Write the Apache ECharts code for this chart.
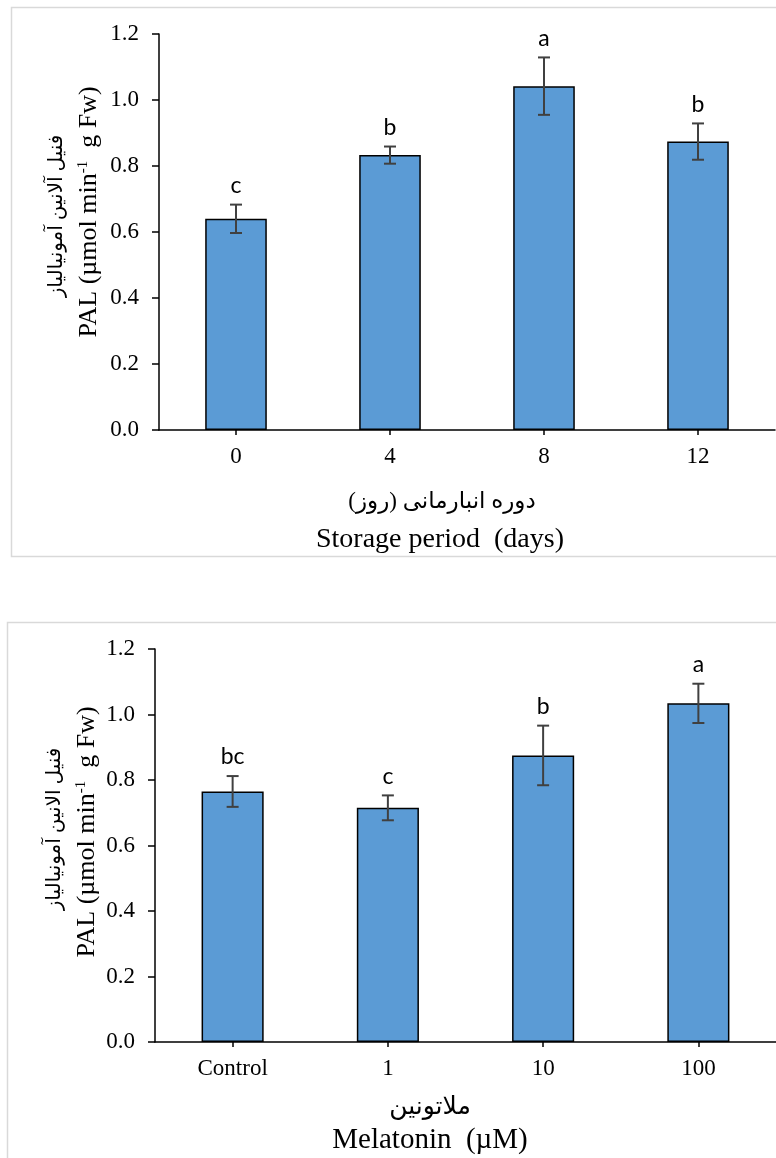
<!DOCTYPE html>
<html>
<head>
<meta charset="utf-8">
<script src="https://cdn.jsdelivr.net/npm/echarts@6/dist/echarts.min.js"></script>
<style>
html,body{margin:0;padding:0;background:#fff;}
#chart{width:776px;height:1158px;}
</style>
</head>
<body>
<div id="chart"></div>
<script>
// ---- Data ----
const storageDays = ['0', '4', '8', '12'];
const storageMeans = [0.640, 0.833, 1.042, 0.874];
const storageErrors = [0.043, 0.026, 0.087, 0.055];
const storageLetters = ['c', 'b', 'a', 'b'];

const melatoninLevels = ['Control', '1', '10', '100'];
const melatoninMeans = [0.765, 0.715, 0.875, 1.034];
const melatoninErrors = [0.047, 0.038, 0.091, 0.060];
const melatoninLetters = ['bc', 'c', 'b', 'a'];

const yMin = 0, yMax = 1.2, yStep = 0.2;

// ---- Styles ----
const SERIF = "'Liberation Serif','Times New Roman',serif";
const ARABIC = "'Liberation Serif','DejaVu Sans',sans-serif";
const LETTER_FONT = "Lato,'Open Sans',sans-serif";
const BAR_COLOR = '#5b9bd5';
const ERR_COLOR = '#404040';

const chart = echarts.init(document.getElementById('chart'), null, {renderer: 'canvas'});

function errorSeries(idx, means, errs, letters) {
  return {
    type: 'custom',
    xAxisIndex: idx,
    yAxisIndex: idx,
    z: 5,
    data: means.map((m, i) => [i, m, errs[i]]),
    encode: {x: 0, y: 1},
    renderItem: function (params, api) {
      const i = api.value(0);
      const m = api.value(1);
      const e = api.value(2);
      const top = api.coord([i, m + e]);
      const bot = api.coord([i, m - e]);
      const cap = 6;
      return {
        type: 'group',
        children: [
          {type: 'line', shape: {x1: top[0], y1: top[1], x2: bot[0], y2: bot[1]}, style: {stroke: ERR_COLOR, lineWidth: 2}},
          {type: 'line', shape: {x1: top[0] - cap, y1: top[1], x2: top[0] + cap, y2: top[1]}, style: {stroke: ERR_COLOR, lineWidth: 2}},
          {type: 'line', shape: {x1: bot[0] - cap, y1: bot[1], x2: bot[0] + cap, y2: bot[1]}, style: {stroke: ERR_COLOR, lineWidth: 2}},
          {type: 'text', x: top[0], y: top[1] - 19, style: {text: letters[params.dataIndex], fill: '#000', font: '23px ' + LETTER_FONT, align: 'center', verticalAlign: 'middle'}}
        ]
      };
    }
  };
}

function xAxisCfg(idx, cats) {
  return {
    type: 'category',
    gridIndex: idx,
    data: cats,
    axisLine: {lineStyle: {color: '#000', width: 1.5}},
    axisTick: {show: true, alignWithLabel: true, length: 5, lineStyle: {color: '#000', width: 1.5}},
    axisLabel: {color: '#000', fontFamily: SERIF, fontSize: 23, margin: 15},
    splitLine: {show: false}
  };
}

function yAxisCfg(idx) {
  return {
    type: 'value',
    gridIndex: idx,
    min: yMin, max: yMax, interval: yStep,
    axisLine: {show: true, lineStyle: {color: '#000', width: 1.5}},
    axisTick: {show: true, length: 7, lineStyle: {color: '#000', width: 1.5}},
    axisLabel: {color: '#000', fontFamily: SERIF, fontSize: 23, margin: 20, formatter: v => v.toFixed(1)},
    splitLine: {show: false}
  };
}

function barSeries(idx, means) {
  return {
    type: 'bar',
    xAxisIndex: idx,
    yAxisIndex: idx,
    data: means,
    barWidth: '40%',
    itemStyle: {color: BAR_COLOR, borderColor: '#000', borderWidth: 1.5},
    z: 2
  };
}

const enRich = {
  en: {fontFamily: SERIF, fontSize: 26, fill: '#000'},
  sup: {fontFamily: SERIF, fontSize: 15, fill: '#000', verticalAlign: 'top'}
};

function textEl(x, y, text, font, rotate, rich) {
  const el = {
    type: 'text', x: x, y: y, rotation: rotate ? Math.PI / 2 : 0, z: 10,
    style: {text: text, font: font, fill: '#000', align: 'center', verticalAlign: 'middle'}
  };
  if (rich) el.style.rich = rich;
  return el;
}

const option = {
  backgroundColor: '#fff',
  animation: false,
  grid: [
    {left: 159, top: 34, width: 616, height: 396, containLabel: false},
    {left: 155, top: 649, width: 624, height: 393, containLabel: false}
  ],
  xAxis: [xAxisCfg(0, storageDays), xAxisCfg(1, melatoninLevels)],
  yAxis: [yAxisCfg(0), yAxisCfg(1)],
  series: [
    barSeries(0, storageMeans),
    errorSeries(0, storageMeans, storageErrors, storageLetters),
    barSeries(1, melatoninMeans),
    errorSeries(1, melatoninMeans, melatoninErrors, melatoninLetters)
  ],
  graphic: [
    // panel frames
    {type: 'rect', shape: {x: 11.5, y: 7.5, width: 800, height: 549}, style: {fill: null, stroke: '#d9d9d9', lineWidth: 1.5}, z: 0, silent: true},
    {type: 'rect', shape: {x: 7.5, y: 622.5, width: 800, height: 560}, style: {fill: null, stroke: '#d9d9d9', lineWidth: 1.5}, z: 0, silent: true},
    // top chart titles
    textEl(57, 216, 'فنیل آلانین آمونیالیاز', '20px ' + ARABIC, true),
    textEl(89, 212, '{en|PAL (µmol min}{sup|-1}{en|  g Fw)}', '26px ' + SERIF, true, enRich),
    textEl(442, 502, '\u200Fدوره انبارمانی (روز)\u200F', '23px ' + ARABIC, false),
    textEl(440, 540, 'Storage period  (days)', '28px ' + SERIF, false),
    // bottom chart titles
    textEl(55, 829, 'فنیل الانین آمونیالیاز', '20px ' + ARABIC, true),
    textEl(87, 832, '{en|PAL (µmol min}{sup|-1}{en|  g Fw)}', '26px ' + SERIF, true, enRich),
    textEl(430, 1107, 'ملاتونین', '25px ' + ARABIC, false),
    textEl(430, 1140, 'Melatonin  (µM)', '29px ' + SERIF, false)
  ]
};

chart.setOption(option);
</script>
</body>
</html>
